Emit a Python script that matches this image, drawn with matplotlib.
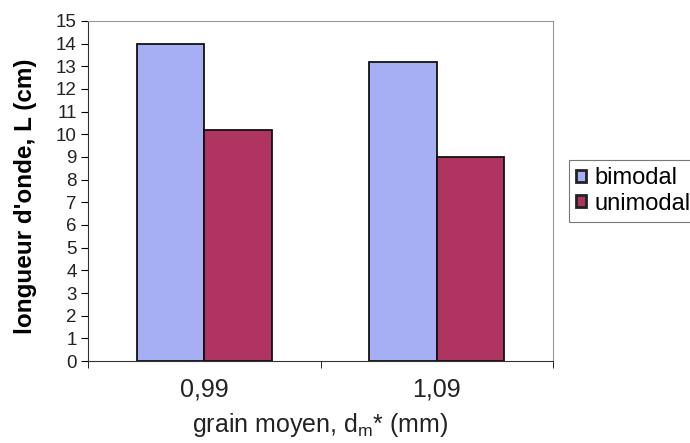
import numpy as np
import matplotlib
matplotlib.use('Agg')
import matplotlib.pyplot as plt

plt.rcParams['font.family'] = ['Liberation Sans', 'DejaVu Sans']
plt.rcParams['mathtext.fontset'] = 'custom'
plt.rcParams['mathtext.rm'] = 'Liberation Sans'

# donnees
categories = ['0,99', '1,09']
bimodal = [14.0, 13.2]
unimodal = [10.2, 9.0]
yticks = list(range(0, 16))

fig = plt.figure(figsize=(6.9, 4.43), dpi=100)
ax = fig.add_axes([0.1275, 0.185, 0.674, 0.768])

x = np.arange(len(categories))
w = 0.29
ax.bar(x - w/2, bimodal, w, color='#a6aef4', edgecolor='#111111', linewidth=1.3, label='bimodal')
ax.bar(x + w/2, unimodal, w, color='#b03462', edgecolor='#111111', linewidth=1.3, label='unimodal')

ax.set_xlim(-0.5, len(categories) - 0.5)
ax.set_ylim(0, 15)
ax.set_yticks(yticks)
ax.tick_params(axis='y', labelsize=13.5, length=5, direction='out', pad=3, labelcolor='#222222')
ax.set_xticks(x)
ax.set_xticklabels(categories, fontsize=18, color='#222222')
ax.set_xticks(np.arange(-0.5, len(categories)), minor=True)
ax.tick_params(axis='x', which='major', length=0, pad=12)
ax.tick_params(axis='x', which='minor', length=5, direction='out')

for s in ['top', 'right']:
    ax.spines[s].set_color('#999999')
ax.spines['left'].set_color('#333333')
ax.spines['bottom'].set_color('#333333')

ax.set_ylabel("longueur d'onde, L (cm)", fontsize=17.5, fontweight='bold')
ax.yaxis.set_label_coords(-0.11, 0.485)
ax.set_xlabel(r"grain moyen, d$_\mathregular{m}$* (mm)", fontsize=18, labelpad=7, color='#222222')

leg = ax.legend(loc='center left', bbox_to_anchor=(1.035, 0.5), fontsize=17,
                handlelength=0.4, handleheight=0.4, handletextpad=0.35,
                borderpad=0.3, labelspacing=0.15, frameon=True, fancybox=False,
                borderaxespad=0)
leg.get_frame().set_edgecolor('#555555')
leg.get_frame().set_linewidth(0.8)
for h in leg.legend_handles:
    h.set_linewidth(2.0)
    h.set_edgecolor('#222222')

fig.savefig('out.png', dpi=100)
